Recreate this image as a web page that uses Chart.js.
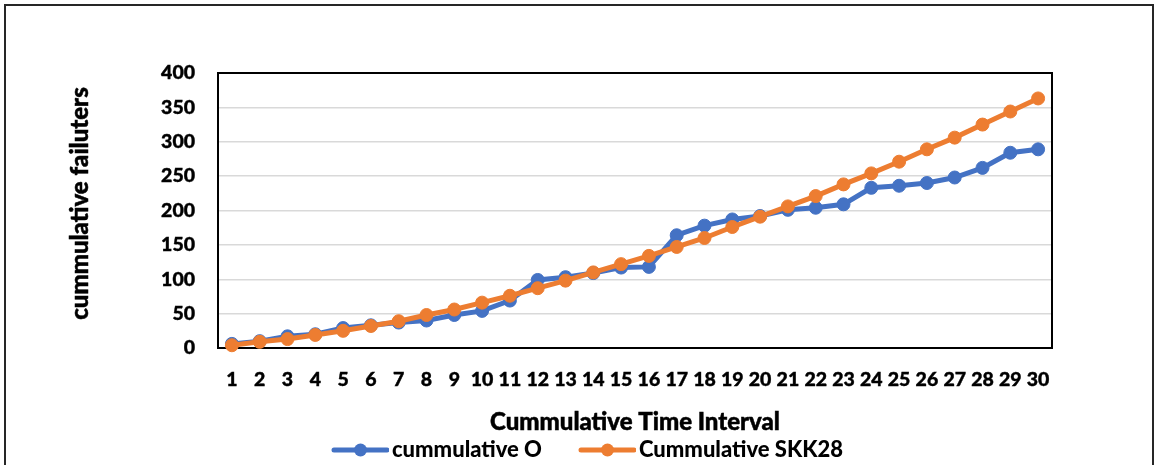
<!DOCTYPE html>
<html>
<head>
<meta charset="utf-8">
<title>Cumulative failures</title>
<script src="https://cdn.jsdelivr.net/npm/chart.js@4.4.1/dist/chart.umd.min.js"></script>
<style>
  html, body { margin: 0; padding: 0; background: #fff; }
  #wrap { width: 1155px; height: 465px; position: relative; }
  canvas { display: block; }
</style>
</head>
<body>
<div id="wrap"><canvas id="chart" width="1155" height="465"></canvas></div>
<script>
// Time intervals 1..30
const intervals = ['1','2','3','4','5','6','7','8','9','10','11','12','13','14','15',
                   '16','17','18','19','20','21','22','23','24','25','26','27','28','29','30'];

// Observed cumulative failures
const cumulativeO = [6, 10, 17, 20, 29, 33, 37, 40, 48, 54, 69, 99, 103, 109, 117,
                     118, 164, 178, 187, 192, 201, 204, 209, 233, 236, 240, 248, 262, 284, 289];

// SKK28 model cumulative failures
const cumulativeSKK28 = [4, 9, 13, 19, 25, 32, 39, 48, 56, 66, 76, 87, 98, 110, 122,
                         134, 147, 160, 176, 191, 206, 221, 238, 254, 271, 289, 306, 325, 344, 363];

const seriesNames = ['cummulative O', 'Cummulative SKK28'];
const yTitle = 'cummulative failuters';
const xTitle = 'Cummulative Time Interval';

const BLUE = '#4472C4';
const ORANGE = '#ED7D31';
const FONT = 'Lato';
const WEIGHT = '900';
const LINE_W = 5;
const MARKER_R = 6.5;

// line-with-marker legend symbol; the line sits at the right end of the image
function legendSwatch(color) {
  const cv = document.createElement('canvas');
  cv.width = 92; cv.height = 16;
  const g = cv.getContext('2d');
  g.strokeStyle = color;
  g.lineWidth = LINE_W;
  g.lineCap = 'round';
  g.beginPath(); g.moveTo(37, 8); g.lineTo(90, 8); g.stroke();
  g.fillStyle = color;
  g.beginPath(); g.arc(63.5, 8, MARKER_R, 0, Math.PI * 2); g.fill();
  return cv;
}

// outer frame, plot frame and axis titles
const decorations = {
  id: 'decorations',
  beforeDatasetsDraw(chart) {
    const { ctx, chartArea: a } = chart;
    ctx.save();
    ctx.strokeStyle = '#000';
    ctx.lineWidth = 2;
    ctx.strokeRect(a.left, a.top, a.right - a.left, a.bottom - a.top);
    ctx.restore();
  },
  afterDraw(chart) {
    const { ctx, chartArea: a } = chart;
    ctx.save();
    ctx.strokeStyle = '#262626';
    ctx.lineWidth = 2;
    ctx.strokeRect(5, 5, 1148, 480);

    ctx.fillStyle = '#000';
    ctx.strokeStyle = '#000';
    ctx.lineWidth = 0.5;
    ctx.textAlign = 'center';
    ctx.textBaseline = 'middle';
    ctx.font = WEIGHT + ' 24px ' + FONT;
    const cx = (a.left + a.right) / 2;
    ctx.fillText(xTitle, cx, 422);
    ctx.strokeText(xTitle, cx, 422);

    ctx.translate(80, (a.top + a.bottom) / 2 - 7);
    ctx.rotate(-Math.PI / 2);
    ctx.fillText(yTitle, 0, 0);
    ctx.strokeText(yTitle, 0, 0);
    ctx.restore();
  }
};

function seriesStyle(color, order) {
  return {
    borderColor: color,
    backgroundColor: color,
    pointBackgroundColor: color,
    pointBorderColor: color,
    borderWidth: LINE_W,
    pointRadius: MARKER_R,
    pointHoverRadius: MARKER_R,
    pointBorderWidth: 1,
    tension: 0,
    clip: false,
    order: order
  };
}

function draw() {
  const swatches = [legendSwatch(BLUE), legendSwatch(ORANGE)];
  const tickFont = { family: FONT, weight: WEIGHT, size: 19.5 };
  new Chart(document.getElementById('chart'), {
    type: 'line',
    data: {
      labels: intervals,
      datasets: [
        Object.assign({ label: seriesNames[0], data: cumulativeO }, seriesStyle(BLUE, 1)),
        Object.assign({ label: seriesNames[1], data: cumulativeSKK28 }, seriesStyle(ORANGE, 0))
      ]
    },
    options: {
      responsive: false,
      animation: false,
      devicePixelRatio: 1,
      layout: { padding: { left: 96, right: 103, top: 73, bottom: -6 } },
      scales: {
        x: {
          offset: true,
          grid: { display: false, drawTicks: false },
          border: { display: false },
          ticks: {
            autoSkip: false,
            maxRotation: 0,
            padding: 20,
            color: '#000',
            textStrokeColor: '#000',
            textStrokeWidth: 0.4,
            font: tickFont
          },
          afterFit(scale) { scale.height = 81; }
        },
        y: {
          min: 0,
          max: 400,
          grid: { color: '#d9d9d9', lineWidth: 1.5, drawTicks: false },
          border: { display: false },
          ticks: {
            stepSize: 50,
            padding: 23,
            color: '#000',
            textStrokeColor: '#000',
            textStrokeWidth: 0.4,
            font: tickFont
          },
          afterFit(scale) { scale.width = 122; }
        }
      },
      plugins: {
        tooltip: { enabled: false },
        legend: {
          position: 'bottom',
          labels: {
            usePointStyle: true,
            pointStyleWidth: 76,
            padding: 10,
            color: '#000',
            font: { family: FONT, weight: WEIGHT, size: 22 },
            sort: (a, b) => a.datasetIndex - b.datasetIndex,
            generateLabels(chart) {
              const items = Chart.defaults.plugins.legend.labels.generateLabels(chart);
              items.forEach((it) => { it.pointStyle = swatches[it.datasetIndex]; });
              return items;
            }
          }
        }
      }
    },
    plugins: [decorations]
  });
}

if (document.fonts && document.fonts.load) {
  document.fonts.load(WEIGHT + ' 22px ' + FONT).then(draw, draw);
} else {
  draw();
}
</script>
</body>
</html>
